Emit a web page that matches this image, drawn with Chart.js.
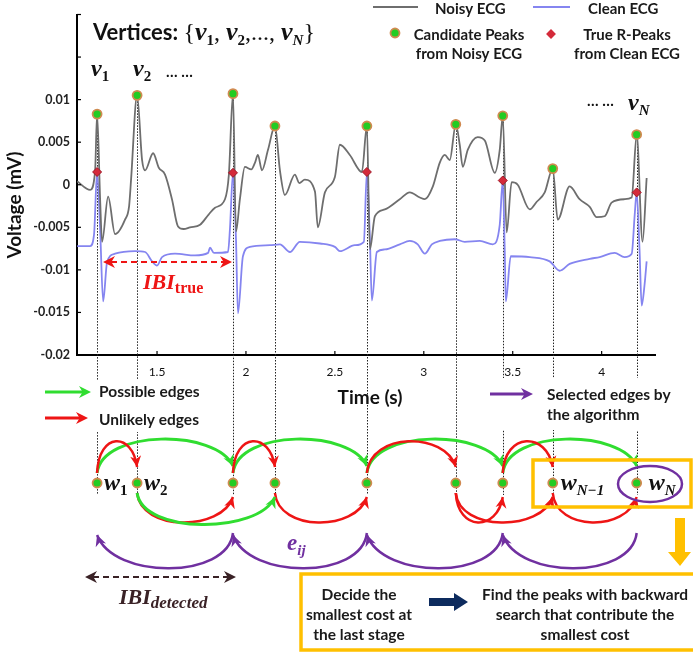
<!DOCTYPE html>
<html>
<head>
<meta charset="utf-8">
<script src="https://cdn.jsdelivr.net/npm/chart.js@4"></script>
<style>
  body { margin: 0; background: #fff; }
  canvas { display: block; }
</style>
</head>
<body>
<canvas id="ecg" width="693" height="656"></canvas>
<script>
// noisy ECG trace [time s, voltage mV]
var noisyECG = [
	[1.051,0.0004],[1.124,-0.0006],[1.152,0.0017],[1.163,0.0083],[1.180,-0.0017],[1.191,-0.0067],
	[1.225,-0.0014],[1.264,-0.0058],[1.320,-0.0041],[1.343,-0.0025],[1.354,0.0006],[1.388,0.0105],
	[1.416,0.0029],[1.433,0.0017],[1.478,0.0037],[1.510,0.0020],[1.545,0.0012],[1.584,-0.0017],
	[1.618,-0.0049],[1.650,-0.0052],[1.685,-0.0050],[1.742,-0.0047],[1.790,-0.0035],[1.826,-0.0027],
	[1.882,-0.0017],[1.904,0.0012],[1.927,0.0107],[1.944,-0.0055],[1.966,-0.0017],[1.994,0.0021],
	[2.030,0.0018],[2.051,0.0026],[2.067,0.0035],[2.090,0.0017],[2.124,0.0041],[2.163,0.0069],
	[2.191,0.0017],[2.219,-0.0012],[2.275,0.0012],[2.300,0.0002],[2.331,0.0006],[2.388,-0.0008],
	[2.404,-0.0050],[2.444,-0.0009],[2.500,0.0009],[2.528,0.0047],[2.584,0.0035],[2.652,0.0015],
	[2.680,0.0069],[2.697,-0.0076],[2.725,-0.0037],[2.781,-0.0029],[2.865,-0.0017],[2.921,-0.0009],
	[2.978,-0.0015],[3.006,-0.0017],[3.051,-0.0002],[3.090,0.0026],[3.118,0.0035],[3.146,0.0029],
	[3.180,0.0071],[3.202,0.0047],[3.219,0.0021],[3.247,0.0041],[3.303,0.0056],[3.343,0.0052],
	[3.399,0.0014],[3.427,0.0041],[3.444,0.0081],[3.466,-0.0056],[3.494,0.0003],[3.528,0.0000],
	[3.596,-0.0029],[3.635,-0.0020],[3.680,-0.0009],[3.725,0.0019],[3.753,-0.0041],[3.820,-0.0002],
	[3.876,-0.0017],[3.933,-0.0026],[3.972,-0.0038],[4.017,-0.0037],[4.056,-0.0021],[4.129,-0.0017],
	[4.169,-0.0015],[4.197,0.0059],[4.230,-0.0067],[4.253,0.0008]
];
// clean ECG trace
var cleanECG = [
	[1.051,-0.0072],[1.124,-0.0072],[1.146,-0.0058],[1.163,0.0015],[1.180,-0.0052],[1.197,-0.0137],
	[1.219,-0.0091],[1.264,-0.0081],[1.376,-0.0078],[1.433,-0.0079],[1.472,-0.0090],[1.500,-0.0095],
	[1.528,-0.0085],[1.601,-0.0081],[1.713,-0.0083],[1.787,-0.0080],[1.798,-0.0074],[1.820,-0.0080],
	[1.899,-0.0079],[1.910,-0.0052],[1.927,0.0014],[1.944,-0.0064],[1.955,-0.0151],[1.983,-0.0084],
	[2.022,-0.0073],[2.135,-0.0071],[2.191,-0.0070],[2.247,-0.0079],[2.303,-0.0067],[2.416,-0.0069],
	[2.500,-0.0073],[2.528,-0.0078],[2.612,-0.0071],[2.663,-0.0067],[2.680,0.0015],[2.697,-0.0064],
	[2.708,-0.0136],[2.736,-0.0079],[2.781,-0.0076],[2.865,-0.0070],[2.921,-0.0066],[2.966,-0.0070],
	[3.006,-0.0081],[3.045,-0.0070],[3.090,-0.0066],[3.174,-0.0064],[3.230,-0.0067],[3.315,-0.0066],
	[3.388,-0.0070],[3.427,-0.0047],[3.444,0.0005],[3.455,-0.0076],[3.461,-0.0137],[3.489,-0.0084],
	[3.596,-0.0085],[3.708,-0.0090],[3.764,-0.0101],[3.820,-0.0093],[3.933,-0.0087],[3.989,-0.0085],
	[4.073,-0.0080],[4.129,-0.0085],[4.169,-0.0081],[4.186,-0.0035],[4.197,-0.0009],[4.213,-0.0076],
	[4.225,-0.0142],[4.242,-0.0116],[4.253,-0.0090]
];
// candidate peaks (noisy) and true R-peaks (clean)
var peakT = [1.163, 1.388, 1.927, 2.163, 2.680, 3.180, 3.444, 3.725, 4.197];
var peakV = [0.0083, 0.0105, 0.0107, 0.0069, 0.0069, 0.0071, 0.0081, 0.0019, 0.0059];
var rPeakT = [1.163, 1.927, 2.680, 3.444, 4.197];
var rPeakV = [0.0015, 0.0014, 0.0015, 0.0005, -0.0009];

var xTicks = [1.5, 2, 2.5, 3, 3.5, 4];
var yTicks = [-0.02, -0.015, -0.01, -0.005, 0, 0.005, 0.01, 0.015, 0.02];
var yTickLabels = ['-0.02', '-0.015', '-0.01', '-0.005', '0', '0.005', '0.01', '', ''];

// graph edges between candidate peaks (index into peakT)
var upGreen = [[0,2],[2,4],[4,6],[6,8]];
var upRed = [[0,1],[2,3],[4,5],[6,7]];
var lowGreen = [[1,3]];
var lowRed = [[1,2],[3,4],[5,6],[5,7],[7,8]];
var selected = [[8,6],[6,4],[4,2],[2,0]];

var SANS = 'Lato, "Open Sans", sans-serif';
var SERIF = '"Liberation Serif", "DejaVu Serif", serif';
var GREEN = '#30dd30', RED = '#ee1515', PURPLE = '#7030a0', GOLD = '#ffc000';

function pts(arr) {
	return arr.map(function(p) { return {x: p[0], y: p[1]}; });
}

// draws runs of text with different fonts, returns width
function mtext(ctx, x, y, parts, align) {
	var w = 0, i;
	for (i = 0; i < parts.length; i++) {
		ctx.font = parts[i][1];
		w += ctx.measureText(parts[i][0]).width;
	}
	var cx = align == 'center' ? x - w / 2 : (align == 'right' ? x - w : x);
	ctx.textAlign = 'left';
	ctx.textBaseline = 'alphabetic';
	for (i = 0; i < parts.length; i++) {
		ctx.font = parts[i][1];
		ctx.fillStyle = parts[i][3] || '#111';
		ctx.fillText(parts[i][0], cx, y + (parts[i][2] || 0));
		cx += ctx.measureText(parts[i][0]).width;
	}
	return w;
}

function head(ctx, x, y, ang, len, hw, color) {
	ctx.save();
	ctx.translate(x, y);
	ctx.rotate(ang);
	ctx.beginPath();
	ctx.moveTo(0, 0);
	ctx.lineTo(-len, -hw);
	ctx.lineTo(-len * 0.7, 0);
	ctx.lineTo(-len, hw);
	ctx.closePath();
	ctx.fillStyle = color;
	ctx.fill();
	ctx.restore();
}

function arc(ctx, xa, xb, y0, y1, apex, color, lw) {
	var c = y0 + (apex - y0) / 0.75;
	var d = xb - xa;
	var c1x = xa + d * 0.04, c2x = xb - d * 0.12;
	ctx.beginPath();
	ctx.moveTo(xa, y0);
	ctx.bezierCurveTo(c1x, c, c2x, c, xb, y1);
	ctx.strokeStyle = color;
	ctx.lineWidth = lw;
	ctx.setLineDash([]);
	ctx.stroke();
	head(ctx, xb, y1, Math.atan2(y1 - c, xb - c2x), 11, 5.5, color);
}

function lineArrow(ctx, x1, x2, y, color, dash, both) {
	ctx.beginPath();
	ctx.moveTo(both ? x1 + 8 : x1, y);
	ctx.lineTo(x2 - 8, y);
	ctx.strokeStyle = color;
	ctx.lineWidth = dash ? 2 : 3;
	ctx.setLineDash(dash ? [6, 4] : []);
	ctx.stroke();
	ctx.setLineDash([]);
	head(ctx, x2, y, 0, 12, 6, color);
	if (both) head(ctx, x1, y, Math.PI, 12, 6, color);
}

function node(ctx, x, y) {
	ctx.beginPath();
	ctx.arc(x, y, 4.5, 0, Math.PI * 2);
	ctx.fillStyle = '#22cc22';
	ctx.fill();
	ctx.lineWidth = 1.8;
	ctx.strokeStyle = '#d08a50';
	ctx.stroke();
}

var figure = {
	id: 'figure',
	beforeDatasetsDraw: function(chart) {
		var ctx = chart.ctx, xs = chart.scales.x, ys = chart.scales.y;
		ctx.save();
		ctx.setLineDash([1.5, 1.5]);
		ctx.strokeStyle = '#222';
		ctx.lineWidth = 1;
		for (var i = 0; i < peakT.length; i++) {
			var x = Math.round(xs.getPixelForValue(peakT[i])) + 0.5;
			ctx.beginPath();
			ctx.moveTo(x, ys.getPixelForValue(peakV[i]));
			ctx.lineTo(x, 495);
			ctx.stroke();
		}
		ctx.restore();
	},
	afterDraw: function(chart) {
		var ctx = chart.ctx, xs = chart.scales.x, ys = chart.scales.y;
		var ca = chart.chartArea;
		var i, x;
		ctx.save();

		// inward tick marks
		ctx.strokeStyle = '#000';
		ctx.lineWidth = 1.2;
		for (i = 0; i < xTicks.length; i++) {
			x = xs.getPixelForValue(xTicks[i]);
			ctx.beginPath(); ctx.moveTo(x, ca.bottom); ctx.lineTo(x, ca.bottom - 4); ctx.stroke();
		}
		for (i = 0; i < yTicks.length; i++) {
			var y = ys.getPixelForValue(yTicks[i]);
			ctx.beginPath(); ctx.moveTo(ca.left, y); ctx.lineTo(ca.left + 4, y); ctx.stroke();
		}

		// axis titles
		ctx.fillStyle = '#111';
		ctx.font = 'bold 19px ' + SANS;
		ctx.textAlign = 'center';
		ctx.textBaseline = 'middle';
		ctx.fillText('Time (s)', 370, 398);
		ctx.save();
		ctx.translate(15, 205);
		ctx.rotate(-Math.PI / 2);
		ctx.fillText('Voltage (mV)', 0, 0);
		ctx.restore();

		// title and vertex labels
		var B = 'bold 22px ' + SANS, V = 'bold italic 26px ' + SERIF, S = 'bold 15px ' + SERIF,
			SI = 'bold italic 15px ' + SERIF, P = '24px ' + SERIF;
		mtext(ctx, 93, 40, [['Vertices: ', B], ['{', P], ['v', V], ['1', S, 5], [', ', P], ['v', V], ['2', S, 5],
			[',..., ', P], ['v', V], ['N', SI, 5], ['}', P]], 'left');
		var VL = 'bold italic 24px ' + SERIF;
		mtext(ctx, 91, 76, [['v', VL], ['1', S, 5]], 'left');
		mtext(ctx, 133, 76, [['v', VL], ['2', S, 5]], 'left');
		mtext(ctx, 166, 77, [['\u2026 \u2026', 'bold 15px ' + SANS]], 'left');
		mtext(ctx, 587, 106, [['\u2026 \u2026', 'bold 15px ' + SANS]], 'left');
		mtext(ctx, 628, 110, [['v', VL], ['N', SI, 5]], 'left');

		// top legend
		ctx.lineWidth = 2;
		ctx.strokeStyle = '#6e6e6e';
		ctx.beginPath(); ctx.moveTo(373, 7); ctx.lineTo(418, 7); ctx.stroke();
		ctx.strokeStyle = '#8585f0';
		ctx.beginPath(); ctx.moveTo(533, 7); ctx.lineTo(570, 7); ctx.stroke();
		node(ctx, 395, 33);
		ctx.save();
		ctx.translate(551, 34); ctx.rotate(Math.PI / 4);
		ctx.fillStyle = '#d42a3a'; ctx.fillRect(-3.5, -3.5, 7, 7);
		ctx.restore();
		ctx.fillStyle = '#1a1a1a';
		ctx.font = 'bold 15px ' + SANS;
		ctx.textAlign = 'left';
		ctx.textBaseline = 'middle';
		ctx.fillText('Noisy ECG', 435, 9);
		ctx.fillText('Clean ECG', 588, 9);
		ctx.textAlign = 'center';
		ctx.fillText('Candidate Peaks', 469, 35);
		ctx.fillText('from Noisy ECG', 469, 54);
		ctx.fillText('True R-Peaks', 627, 35);
		ctx.fillText('from Clean ECG', 627, 54);

		// IBI true
		lineArrow(ctx, 103, 232, 262, RED, true, true);
		mtext(ctx, 143, 289, [['IBI', 'bold italic 22px ' + SERIF, 0, RED], ['true', 'bold 16px ' + SERIF, 4, RED]], 'left');

		// lower legends (white boxes hide the dotted lines)
		ctx.fillStyle = '#fff';
		ctx.fillRect(38, 380, 170, 52);
		ctx.fillRect(484, 378, 200, 52);
		lineArrow(ctx, 45, 91, 392, GREEN, false, false);
		lineArrow(ctx, 45, 88, 418, RED, false, false);
		lineArrow(ctx, 490, 533, 394, PURPLE, false, false);
		ctx.fillStyle = '#1a1a1a';
		ctx.font = 'bold 15.5px ' + SANS;
		ctx.textAlign = 'left';
		ctx.textBaseline = 'middle';
		ctx.fillText('Possible edges', 99, 392);
		ctx.fillText('Unlikely edges', 99, 420);
		ctx.fillText('Selected edges by', 547, 395);
		ctx.fillText('the algorithm', 547, 415);

		// graph edges
		var nx = peakT.map(function(t) { return xs.getPixelForValue(t); });
		var e;
		for (i = 0; i < upGreen.length; i++) { e = upGreen[i]; arc(ctx, nx[e[0]], nx[e[1]], 473, 466, 440, GREEN, 3); }
		for (i = 0; i < upRed.length; i++) { e = upRed[i]; arc(ctx, nx[e[0]], nx[e[1]], 473, 467, 442, RED, 2.5); }
		for (i = 0; i < lowRed.length; i++) { e = lowRed[i]; arc(ctx, nx[e[0]], nx[e[1]], 493, 497, 522, RED, 2.5); }
		for (i = 0; i < lowGreen.length; i++) { e = lowGreen[i]; arc(ctx, nx[e[0]], nx[e[1]], 493, 497, 524, GREEN, 3); }
		for (i = 0; i < selected.length; i++) { e = selected[i]; arc(ctx, nx[e[0]], nx[e[1]], 533, 535, 568, PURPLE, 2.5); }
		for (i = 0; i < nx.length; i++) node(ctx, nx[i], 483);

		var W = 'bold italic 24px ' + SERIF;
		mtext(ctx, nx[0] + 7, 490, [['w', W], ['1', S, 5]], 'left');
		mtext(ctx, nx[1] + 7, 490, [['w', W], ['2', S, 5]], 'left');
		mtext(ctx, nx[7] + 8, 490, [['w', W], ['N\u22121', SI, 5]], 'left');
		mtext(ctx, nx[8] + 12, 490, [['w', W], ['N', SI, 5]], 'left');
		mtext(ctx, 287, 550, [['e', 'bold italic 23px ' + SERIF, 0, PURPLE], ['ij', 'bold italic 15px ' + SERIF, 5, PURPLE]], 'left');

		// IBI detected
		lineArrow(ctx, 85, 236, 577, '#3a2226', true, true);
		mtext(ctx, 119, 604, [['IBI', 'bold italic 22px ' + SERIF, 0, '#3a2226'], ['detected', 'bold italic 17px ' + SERIF, 4, '#3a2226']], 'left');

		// last stage box and selected node
		ctx.lineWidth = 3.5;
		ctx.strokeStyle = GOLD;
		ctx.strokeRect(533, 460, 158, 47);
		ctx.beginPath();
		ctx.ellipse(650, 484, 32, 18, 0, 0, Math.PI * 2);
		ctx.strokeStyle = PURPLE;
		ctx.lineWidth = 2.5;
		ctx.stroke();

		// gold down arrow
		ctx.fillStyle = GOLD;
		ctx.beginPath();
		ctx.moveTo(675, 518); ctx.lineTo(685, 518); ctx.lineTo(685, 552); ctx.lineTo(691, 552);
		ctx.lineTo(680, 566); ctx.lineTo(668, 552); ctx.lineTo(675, 552); ctx.closePath();
		ctx.fill();

		// bottom box
		ctx.strokeStyle = GOLD;
		ctx.lineWidth = 3.5;
		ctx.strokeRect(301, 574, 400, 76);
		ctx.fillStyle = '#1a1a1a';
		ctx.font = 'bold 15.5px ' + SANS;
		ctx.textAlign = 'center';
		ctx.textBaseline = 'middle';
		ctx.fillText('Decide the', 359, 595);
		ctx.fillText('smallest cost at', 359, 615);
		ctx.fillText('the last stage', 359, 635);
		ctx.fillText('Find the peaks with backward', 585, 595);
		ctx.fillText('search that contribute the', 585, 615);
		ctx.fillText('smallest cost', 585, 635);
		ctx.fillStyle = '#0d2b5e';
		ctx.beginPath();
		ctx.moveTo(429, 598); ctx.lineTo(454, 598); ctx.lineTo(454, 593); ctx.lineTo(468, 602);
		ctx.lineTo(454, 611); ctx.lineTo(454, 606); ctx.lineTo(429, 606); ctx.closePath();
		ctx.fill();

		ctx.restore();
	}
};

var ctx = document.getElementById('ecg').getContext('2d');
var chart = new Chart(ctx, {
	type: 'scatter',
	data: {
		datasets: [{
			label: 'Candidate Peaks from Noisy ECG',
			data: peakT.map(function(t, i) { return {x: t, y: peakV[i]}; }),
			pointStyle: 'circle',
			pointRadius: 4.5,
			backgroundColor: '#22cc22',
			borderColor: '#d08a50',
			borderWidth: 1.8
		}, {
			label: 'True R-Peaks from Clean ECG',
			data: rPeakT.map(function(t, i) { return {x: t, y: rPeakV[i]}; }),
			pointStyle: 'rectRot',
			pointRadius: 4.5,
			backgroundColor: '#d42a3a',
			borderColor: '#a01828',
			borderWidth: 1
		}, {
			label: 'Noisy ECG',
			data: pts(noisyECG),
			showLine: true,
			borderColor: '#6e6e6e',
			borderWidth: 1.8,
			pointRadius: 0,
			cubicInterpolationMode: 'monotone'
		}, {
			label: 'Clean ECG',
			data: pts(cleanECG),
			showLine: true,
			borderColor: '#8585f0',
			borderWidth: 1.8,
			pointRadius: 0,
			cubicInterpolationMode: 'monotone'
		}]
	},
	options: {
		responsive: false,
		animation: false,
		devicePixelRatio: 1,
		layout: { padding: { left: 0, top: 12, right: 38, bottom: 271 } },
		plugins: { legend: { display: false }, tooltip: { enabled: false } },
		scales: {
			x: {
				type: 'linear', min: 1.05, max: 4.3,
				grid: { display: false, drawTicks: false },
				border: { color: '#000', width: 2 },
				ticks: { padding: 10, color: '#111', font: { family: SANS, size: 12 },
					callback: function(v) { return String(v); } },
				afterBuildTicks: function(s) { s.ticks = xTicks.map(function(v) { return {value: v}; }); },
				afterFit: function(s) { s.height = 30; }
			},
			y: {
				min: -0.02, max: 0.02,
				grid: { display: false, drawTicks: false },
				border: { color: '#000', width: 2 },
				ticks: { padding: 7, color: '#222', font: { family: SANS, size: 12.5, weight: 'bold' },
					callback: function(v, i) { return yTickLabels[i]; } },
				afterBuildTicks: function(s) { s.ticks = yTicks.map(function(v) { return {value: v}; }); },
				afterFit: function(s) { s.width = 77; }
			}
		}
	},
	plugins: [figure]
});
</script>
</body>
</html>
